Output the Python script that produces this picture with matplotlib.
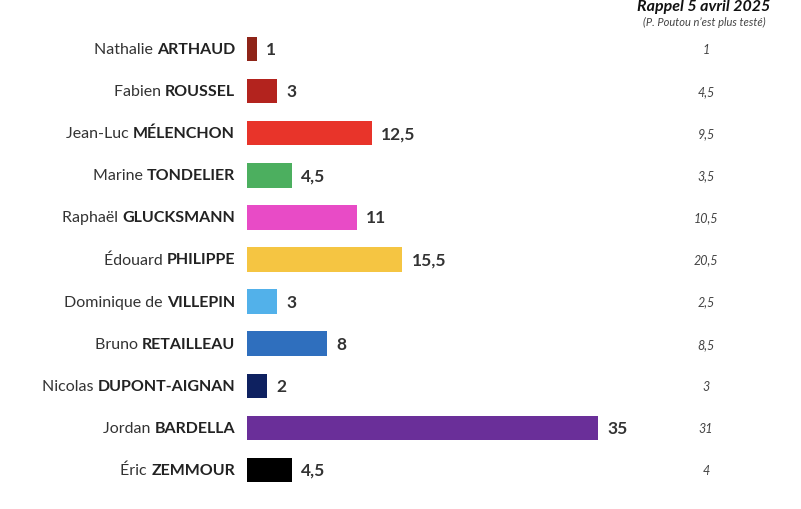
import matplotlib
matplotlib.use("Agg")
import matplotlib.pyplot as plt

first = ["Nathalie", "Fabien", "Jean-Luc", "Marine", "Raphaël", "Édouard", "Dominique de", "Bruno", "Nicolas", "Jordan", "Éric"]
last = ["ARTHAUD", "ROUSSEL", "MÉLENCHON", "TONDELIER", "GLUCKSMANN", "PHILIPPE", "VILLEPIN", "RETAILLEAU", "DUPONT-AIGNAN", "BARDELLA", "ZEMMOUR"]
values = [1, 3, 12.5, 4.5, 11, 15.5, 3, 8, 2, 35, 4.5]
previous = ["1", "4,5", "9,5", "3,5", "10,5", "20,5", "2,5", "8,5", "3", "31", "4"]
colors = ["#8E2418", "#B3231E", "#E8342A", "#4CAF5F", "#E84BC6", "#F5C542", "#52B1EA", "#2F6FBE", "#0E2160", "#6A2F99", "#000000"]

plt.rcParams['font.family'] = ['Lato', 'DejaVu Sans']
fig = plt.figure(figsize=(8.01, 5.10), dpi=100)
W, H = 801, 510
x0 = 247
scale = 10.03  # px per unit
ax = fig.add_axes([x0 / W, 0, (W - x0) / W, 1])
ax.set_xlim(0, (W - x0) / scale)
top, step = 50, 42.1
ax.set_ylim((H - top) / step, -top / step)
ax.axis("off")

for i, (f, l, v, p, c) in enumerate(zip(first, last, values, previous, colors)):
    ax.barh(i, v, height=0.58, color=c)
    lab = ("%g" % v).replace(".", ",")
    ax.text(v + 0.9, i, lab, va="center", ha="left", fontsize=12.5, fontweight="bold", color="#333333")
    bt = ax.annotate(l, xy=(235, i), xycoords=("figure pixels", "data"), ha="right", va="center",
                     fontsize=11.5, fontweight="bold", color="#222222")
    ax.annotate(f + " ", xy=(0, 0.5), xycoords=bt, ha="right", va="center", fontsize=11.5, color="#333333")
    ax.annotate(p, xy=(706, i), xycoords=("figure pixels", "data"), ha="center", va="center",
                fontsize=9, style="italic", color="#444444")

fig.text(704 / W, 1 - 7 / H, "Rappel 5 avril 2025", ha="center", va="center", fontsize=11.5,
         fontweight="bold", style="italic", color="#111111")
fig.text(704 / W, 1 - 22 / H, "(P. Poutou n’est plus testé)", ha="center", va="center", fontsize=8,
         style="italic", color="#444444")
fig.savefig("out.png", dpi=100)
